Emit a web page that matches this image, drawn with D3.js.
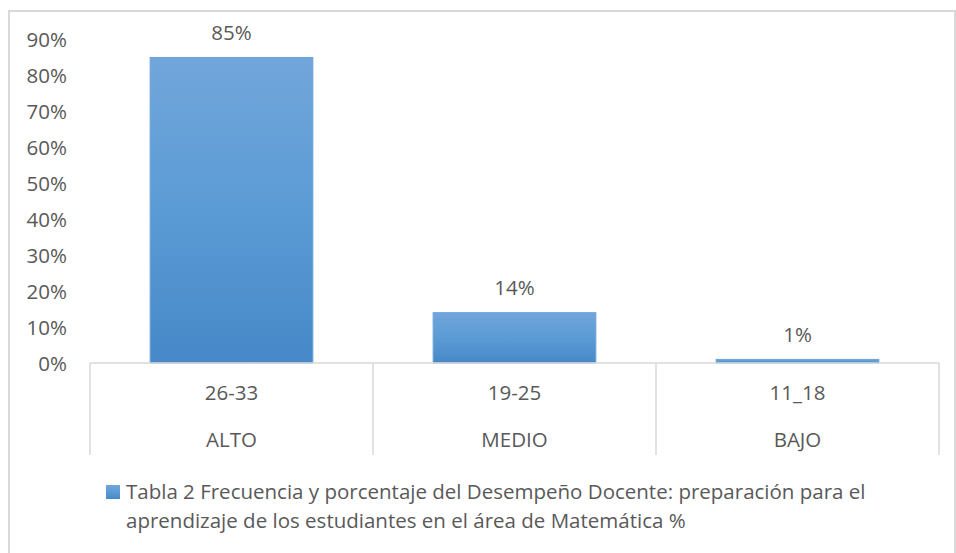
<!DOCTYPE html>
<html>
<head>
<meta charset="utf-8">
<script src="https://cdn.jsdelivr.net/npm/d3@7"></script>
<style>
  body { margin: 0; background: #fff; }
  text { font-family: "Open Sans", "Noto Sans", sans-serif; fill: #595959; }
</style>
</head>
<body>
<div id="chart"></div>
<script>
var width = 956,
    height = 553,
    fontSize = 20.5;

// data
var ranges = ["26-33", "19-25", "11_18"];
var levels = ["ALTO", "MEDIO", "BAJO"];
var percents = [0.85, 0.14, 0.01];
var yTicks = [0, 0.1, 0.2, 0.3, 0.4, 0.5, 0.6, 0.7, 0.8, 0.9];
var legendLines = ["Tabla 2 Frecuencia y porcentaje del Desempeño Docente: preparación para el",
                   "aprendizaje de los estudiantes en el área de Matemática %"];

var data = ranges.map(function(r, i) { return {range: r, level: levels[i], value: percents[i]}; });

var svg = d3.select("#chart").append("svg")
    .attr("width", width)
    .attr("height", height);

var defs = svg.append("defs");
var grad = defs.append("linearGradient")
    .attr("id", "barGrad")
    .attr("x1", 0).attr("y1", 0).attr("x2", 0).attr("y2", 1);
grad.append("stop").attr("offset", "0%").attr("stop-color", "#71a6db");
grad.append("stop").attr("offset", "50%").attr("stop-color", "#5b9bd5");
grad.append("stop").attr("offset", "100%").attr("stop-color", "#4688c8");

// chart border
svg.append("rect")
    .attr("x", 9)
    .attr("y", 11)
    .attr("width", 946)
    .attr("height", 548)
    .attr("fill", "none")
    .attr("stroke", "#d9d9d9")
    .attr("stroke-width", 2);

var x = d3.scaleBand()
    .domain(ranges)
    .range([90, 939])
    .paddingInner(0)
    .paddingOuter(0);

var y = d3.scaleLinear()
    .domain([0, 0.9])
    .range([363, 39.5]);

var barW = x.bandwidth() * 0.575;

// y axis labels (no line, no gridlines)
var yAxis = d3.axisLeft(y)
    .tickValues(yTicks)
    .tickFormat(d3.format(".0%"))
    .tickSize(0)
    .tickPadding(0);

svg.append("g")
    .attr("transform", "translate(67,0)")
    .call(yAxis)
    .call(function(g) { g.select(".domain").remove(); })
    .selectAll("text")
    .attr("font-size", fontSize)
    .attr("font-family", null)
    .attr("fill", "#595959")
    .attr("dy", "0.35em");

// bars
svg.selectAll(".bar")
    .data(data)
  .enter().append("rect")
    .attr("class", "bar")
    .attr("x", function(d) { return x(d.range) + (x.bandwidth() - barW) / 2; })
    .attr("y", function(d) { return y(d.value); })
    .attr("width", barW)
    .attr("height", function(d) { return y(0) - y(d.value); })
    .attr("fill", "url(#barGrad)")
    .attr("stroke", "#6aa3da")
    .attr("stroke-width", 1);

// data labels
svg.selectAll(".lbl")
    .data(data)
  .enter().append("text")
    .attr("class", "lbl")
    .attr("x", function(d) { return x(d.range) + x.bandwidth() / 2; })
    .attr("y", function(d) { return y(d.value) - 25; })
    .attr("dy", "0.35em")
    .attr("text-anchor", "middle")
    .attr("font-size", fontSize)
    .text(function(d) { return d3.format(".0%")(d.value); });

// category axis: baseline and dividers
var axisG = svg.append("g").attr("class", "x-axis");
axisG.append("line")
    .attr("x1", x.range()[0]).attr("x2", x.range()[1])
    .attr("y1", y(0)).attr("y2", y(0))
    .attr("stroke", "#d9d9d9")
    .attr("stroke-width", 1.5);

var dividers = ranges.map(function(r) { return x(r); }).concat([x.range()[1]]);
axisG.selectAll(".div")
    .data(dividers)
  .enter().append("line")
    .attr("class", "div")
    .attr("x1", function(d) { return d; })
    .attr("x2", function(d) { return d; })
    .attr("y1", y(0))
    .attr("y2", 455)
    .attr("stroke", "#d9d9d9")
    .attr("stroke-width", 1.5);

axisG.selectAll(".rng")
    .data(data)
  .enter().append("text")
    .attr("x", function(d) { return x(d.range) + x.bandwidth() / 2; })
    .attr("y", 393)
    .attr("dy", "0.35em")
    .attr("text-anchor", "middle")
    .attr("font-size", fontSize)
    .text(function(d) { return d.range; });

axisG.selectAll(".lvl")
    .data(data)
  .enter().append("text")
    .attr("x", function(d) { return x(d.range) + x.bandwidth() / 2; })
    .attr("y", 440)
    .attr("dy", "0.35em")
    .attr("text-anchor", "middle")
    .attr("font-size", fontSize)
    .text(function(d) { return d.level; });

// legend
var legend = svg.append("g").attr("class", "legend");
legend.append("rect")
    .attr("x", 106)
    .attr("y", 485)
    .attr("width", 14)
    .attr("height", 14)
    .attr("fill", "url(#barGrad)");

legend.selectAll("text")
    .data(legendLines)
  .enter().append("text")
    .attr("x", 126)
    .attr("y", function(d, i) { return 492 + i * 29; })
    .attr("dy", "0.35em")
    .attr("font-size", fontSize)
    .text(function(d) { return d; });
</script>
</body>
</html>
